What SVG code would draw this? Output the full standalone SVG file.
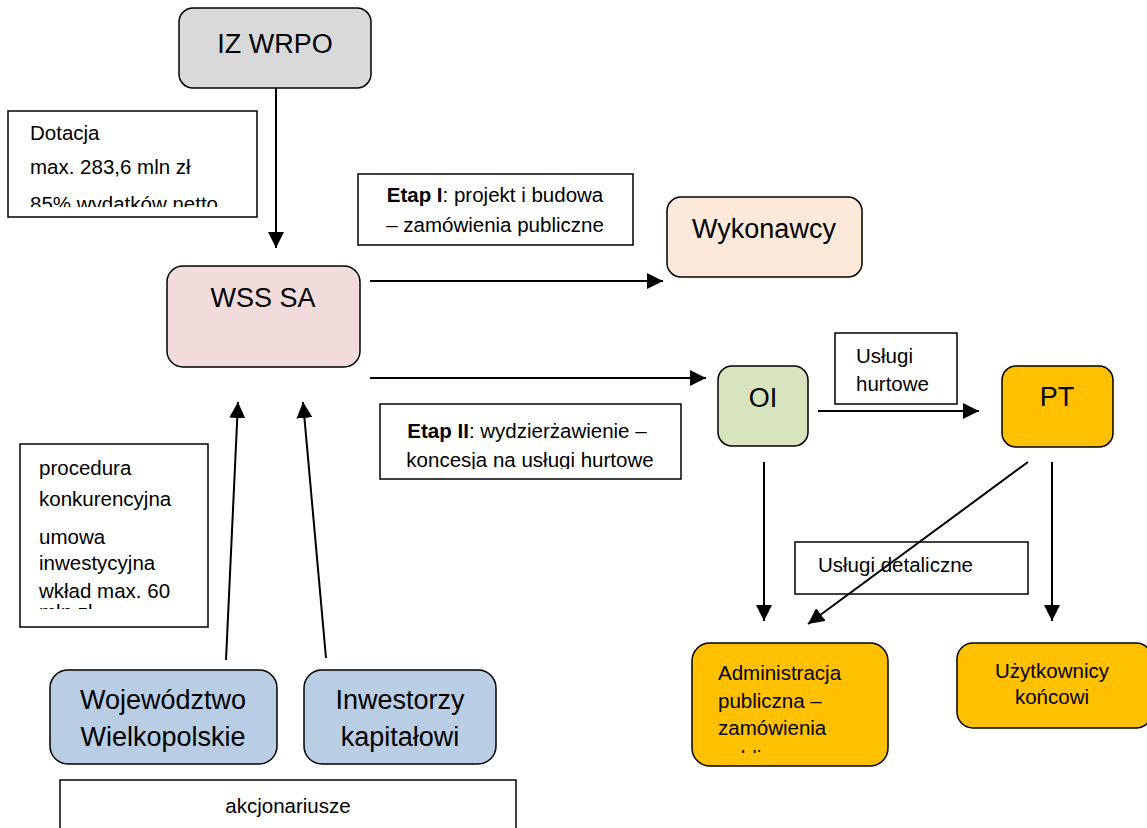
<svg xmlns="http://www.w3.org/2000/svg" width="1147" height="828" viewBox="0 0 1147 828">
<style>
text{font-family:"Liberation Sans",Arial,sans-serif;fill:#000}
.n{stroke:#000;stroke-width:1.5}
.b{fill:#fff;stroke:#000;stroke-width:1.5}
.big{font-size:27px}
.t{font-size:20.5px}
.c{text-anchor:middle}
.a{stroke:#000;stroke-width:2;fill:none;marker-end:url(#ah)}
</style>
<defs>
<marker id="ah" viewBox="0 0 10 10" refX="10" refY="5" markerWidth="16" markerHeight="16" markerUnits="userSpaceOnUse" orient="auto">
<path d="M0,0 L10,5 L0,10 z" fill="#000"/>
</marker>
<clipPath id="cl1"><rect x="9" y="112" width="247" height="95"/></clipPath>
<clipPath id="cl2"><rect x="21" y="445" width="186" height="164"/></clipPath>
<clipPath id="cl3"><rect x="381" y="405" width="299" height="64"/></clipPath>
<clipPath id="cl4"><rect x="693" y="644" width="194" height="109"/></clipPath>
</defs>
<g id="iz-wrpo">
<rect class="n" x="179" y="8" width="192" height="80" rx="14" fill="#d9d9d9"/>
<text class="big c" x="275" y="53">IZ WRPO</text>
</g>
<g id="dotacja">
<rect class="b" x="8" y="111" width="249" height="106"/>
<g clip-path="url(#cl1)">
<text class="t" x="30" y="140">Dotacja</text>
<text class="t" x="30" y="174">max. 283,6 mln zł</text>
<text class="t" x="30" y="211">85% wydatków netto</text>
</g>
</g>
<g id="wss-sa">
<rect class="n" x="167" y="266" width="193" height="101" rx="16" fill="#f2dcdb"/>
<text class="big c" x="263" y="307">WSS SA</text>
</g>
<g id="etap1">
<rect class="b" x="358" y="174" width="275" height="71"/>
<text class="t c" x="495" y="202"><tspan font-weight="bold">Etap I</tspan>: projekt i budowa</text>
<text class="t c" x="495" y="232">– zamówienia publiczne</text>
</g>
<g id="wykonawcy">
<rect class="n" x="667" y="197" width="195" height="80" rx="14" fill="#fde9d9"/>
<text class="big c" x="764" y="238">Wykonawcy</text>
</g>
<g id="oi">
<rect class="n" x="718" y="366" width="90" height="80" rx="14" fill="#d7e4bd"/>
<text class="big c" x="763" y="407">OI</text>
</g>
<g id="uslugi-hurtowe">
<rect class="b" x="835" y="333" width="122" height="71"/>
<text class="t" x="856" y="363">Usługi</text>
<text class="t" x="856" y="391">hurtowe</text>
</g>
<g id="pt">
<rect class="n" x="1002" y="366" width="111" height="81" rx="14" fill="#ffc000"/>
<text class="big c" x="1057" y="406">PT</text>
</g>
<g id="etap2">
<rect class="b" x="380" y="404" width="301" height="75"/>
<g clip-path="url(#cl3)">
<text class="t c" x="527" y="438"><tspan font-weight="bold">Etap II</tspan>: wydzierżawienie  –</text>
<text class="t c" x="530" y="467">koncesja na usługi hurtowe</text>
</g>
</g>
<g id="procedura">
<rect class="b" x="20" y="444" width="188" height="183"/>
<g clip-path="url(#cl2)">
<text class="t" x="39" y="475">procedura</text>
<text class="t" x="39" y="506">konkurencyjna</text>
<text class="t" x="39" y="544">umowa</text>
<text class="t" x="39" y="570">inwestycyjna</text>
<text class="t" x="39" y="598">wkład max. 60</text>
<text class="t" x="39" y="619">mln zł</text>
</g>
</g>
<g id="uslugi-detaliczne">
<rect class="b" x="795" y="542" width="233" height="52"/>
<text class="t" x="818" y="572">Usługi detaliczne</text>
</g>
<g id="administracja">
<rect class="n" x="692" y="643" width="196" height="123" rx="18" fill="#ffc000"/>
<g clip-path="url(#cl4)">
<text class="t" x="718" y="680">Administracja</text>
<text class="t" x="718" y="708">publiczna –</text>
<text class="t" x="718" y="735">zamówienia</text>
<text class="t" x="718" y="765">publiczne</text>
</g>
</g>
<g id="uzytkownicy">
<rect class="n" x="957" y="643" width="195" height="85" rx="16" fill="#ffc000"/>
<text class="t c" x="1052" y="678" font-size="20">Użytkownicy</text>
<text class="t c" x="1052" y="704" font-size="20">końcowi</text>
</g>
<g id="wojewodztwo">
<rect class="n" x="50" y="670" width="227" height="94" rx="18" fill="#b9cde5"/>
<text class="big c" x="163" y="709">Województwo</text>
<text class="big c" x="163" y="746">Wielkopolskie</text>
</g>
<g id="inwestorzy">
<rect class="n" x="304" y="670" width="192" height="94" rx="18" fill="#b9cde5"/>
<text class="big c" x="400" y="709">Inwestorzy</text>
<text class="big c" x="400" y="746">kapitałowi</text>
</g>
<g id="akcjonariusze">
<rect class="b" x="60" y="780" width="456" height="60"/>
<text class="t c" x="288" y="813">akcjonariusze</text>
</g>
<g id="connectors">
<path class="a" d="M276,88 L276,248"/>
<path class="a" d="M370,281 L663,281"/>
<path class="a" d="M370,378 L706,378"/>
<path class="a" d="M818,411 L979,411"/>
<path class="a" d="M226,660 L238,402"/>
<path class="a" d="M326,658 L303,402"/>
<path class="a" d="M764,462 L764,621"/>
<path class="a" d="M1052,462 L1052,621"/>
<path class="a" d="M1028,462 L808,624"/>
</g>
</svg>
